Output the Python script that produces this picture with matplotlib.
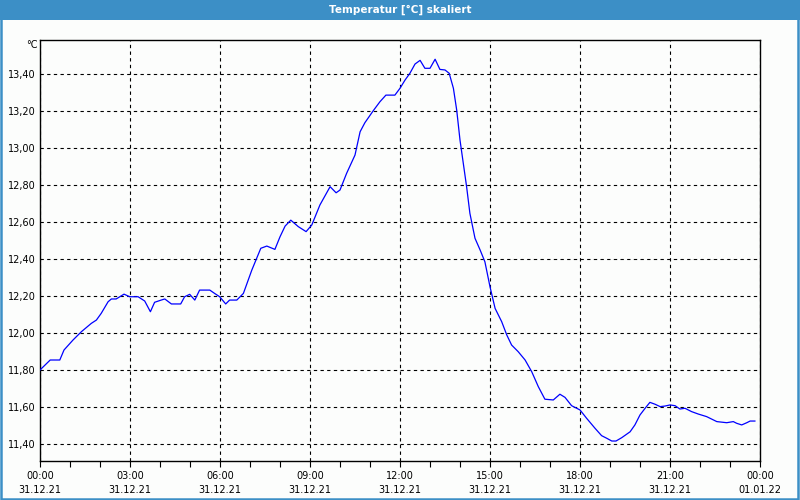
import matplotlib
matplotlib.use("Agg")
import matplotlib.pyplot as plt
from matplotlib.patches import Rectangle
from matplotlib.ticker import MultipleLocator, FixedLocator

hours = [0.0, 0.34, 0.66, 0.8, 1.1, 1.38, 1.71, 1.88, 2.04, 2.27, 2.38, 2.54, 2.8, 2.99,
         3.27, 3.49, 3.68, 3.82, 4.04, 4.16, 4.38, 4.69, 4.82, 4.99, 5.16, 5.32, 5.66,
         5.82, 5.99, 6.19, 6.32, 6.56, 6.78, 7.06, 7.36, 7.56, 7.83, 8.0, 8.17, 8.36,
         8.61, 8.87, 9.06, 9.33, 9.67, 9.87, 10.0, 10.22, 10.5, 10.67, 10.83, 11.11,
         11.33, 11.53, 11.83, 12.0, 12.17, 12.33, 12.5, 12.67, 12.83, 13.0, 13.17,
         13.33, 13.5, 13.64, 13.78, 13.89, 14.0, 14.11, 14.22, 14.33, 14.5, 14.67,
         14.83, 15.0, 15.17, 15.39, 15.56, 15.72, 15.94, 16.17, 16.39, 16.61, 16.83,
         17.11, 17.33, 17.5, 17.72, 18.0, 18.22, 18.5, 18.72, 18.89, 19.06, 19.2,
         19.39, 19.67, 19.83, 20.0, 20.17, 20.33, 20.5, 20.67, 20.83, 21.0, 21.17,
         21.33, 21.5, 21.72, 21.94, 22.22, 22.56, 22.89, 23.11, 23.22, 23.39, 23.56,
         23.67, 23.83]
temps = [11.80, 11.854, 11.854, 11.908, 11.962, 12.007, 12.052, 12.07, 12.106, 12.169,
         12.184, 12.184, 12.21, 12.196, 12.196, 12.173, 12.115, 12.166, 12.178, 12.184,
         12.157, 12.157, 12.196, 12.209, 12.178, 12.232, 12.232, 12.214, 12.196, 12.157,
         12.178, 12.178, 12.214, 12.34, 12.458, 12.47, 12.452, 12.52, 12.578, 12.61,
         12.575, 12.548, 12.584, 12.692, 12.791, 12.758, 12.773, 12.863, 12.962, 13.088,
         13.137, 13.202, 13.25, 13.286, 13.286, 13.323, 13.368, 13.404, 13.454, 13.474,
         13.431, 13.431, 13.48, 13.425, 13.422, 13.404, 13.323, 13.205, 13.043, 12.917,
         12.791, 12.647, 12.512, 12.449, 12.385, 12.25, 12.133, 12.061, 11.989, 11.935,
         11.899, 11.854, 11.791, 11.71, 11.642, 11.638, 11.669, 11.652, 11.607, 11.584,
         11.539, 11.485, 11.445, 11.431, 11.416, 11.416, 11.434, 11.466, 11.503, 11.557,
         11.593, 11.625, 11.615, 11.602, 11.605, 11.611, 11.607, 11.589, 11.593, 11.575,
         11.562, 11.548, 11.521, 11.515, 11.521, 11.512, 11.503, 11.515, 11.524, 11.524]

tick_hours = [0, 3, 6, 9, 12, 15, 18, 21, 24]
tick_times = ["00:00", "03:00", "06:00", "09:00", "12:00", "15:00", "18:00", "21:00", "00:00"]
tick_dates = ["31.12.21"] * 8 + ["01.01.22"]
y_ticks = [11.4, 11.6, 11.8, 12.0, 12.2, 12.4, 12.6, 12.8, 13.0, 13.2, 13.4]

title = "Temperatur [°C] skaliert"
unit = "°C"

blue = "#3c8fc6"
fig = plt.figure(figsize=(8, 5), dpi=100, facecolor="#fcfdfc")

# title bar and border
fig.patches.append(Rectangle((0, 1 - 20 / 500), 1, 20 / 500, transform=fig.transFigure,
                             facecolor=blue, edgecolor="none", zorder=0))
fig.patches.append(Rectangle((0.75 / 800, 1 / 500), 1 - 3 / 800, 1 - 2 / 500, transform=fig.transFigure,
                             facecolor="none", edgecolor=blue, lw=1.8, zorder=0))
fig.text(0.5, 1 - 10 / 500, title, color="white", ha="center", va="center",
         fontsize=7.5, fontweight="bold", family="DejaVu Sans")

ax = fig.add_axes([40 / 800, 39 / 500, 720 / 800, 421 / 500])
ax.set_facecolor("#fcfdfc")
ax.plot(hours, temps, color="#0000ff", lw=0.9, zorder=3)

ax.set_xlim(0, 24)
ax.set_ylim(11.308, 13.584)

ax.xaxis.set_major_locator(FixedLocator(tick_hours))
ax.set_xticklabels([f"{t}\n{d}" for t, d in zip(tick_times, tick_dates)],
                   fontsize=7, linespacing=1.55)
ax.xaxis.set_minor_locator(MultipleLocator(1))
ax.tick_params(axis="x", which="both", direction="out", length=4, width=0.8, pad=3)

ax.yaxis.set_major_locator(FixedLocator(y_ticks))
ax.set_yticklabels([f"{v:.2f}".replace(".", ",") for v in y_ticks], fontsize=7)
ax.tick_params(axis="y", length=0, pad=3)

ax.grid(True, which="major", color="black", linestyle=(0, (3, 3)), lw=0.8)
for s in ax.spines.values():
    s.set_color("black")
    s.set_linewidth(1.0)

fig.text(38 / 800, 1 - 45 / 500, unit, ha="right", va="center", fontsize=7)

fig.savefig("out.png", dpi=100, facecolor=fig.get_facecolor())
